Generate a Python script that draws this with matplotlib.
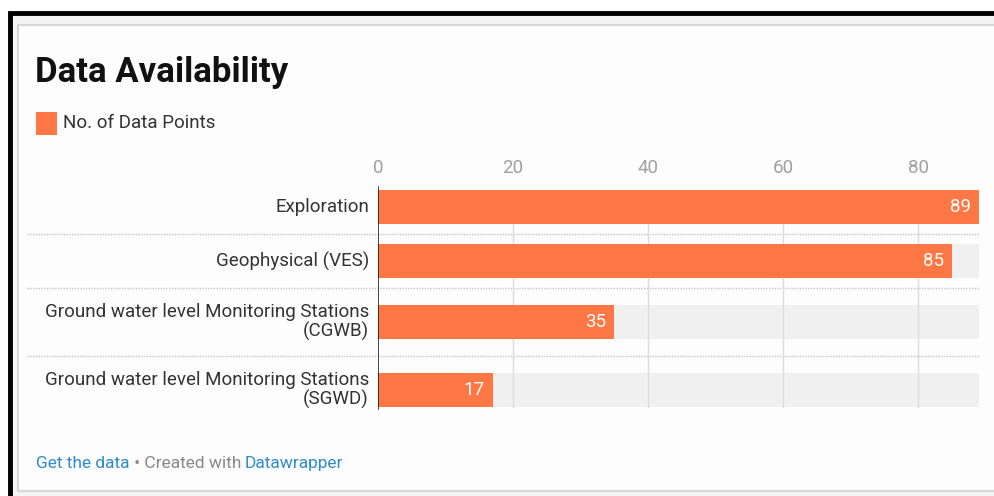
import matplotlib.pyplot as plt
from matplotlib.patches import Rectangle

categories = ['Exploration', 'Geophysical (VES)',
              'Ground water level Monitoring Stations\n(CGWB)',
              'Ground water level Monitoring Stations\n(SGWD)']
values = [89, 85, 35, 17]
ticks = [0, 20, 40, 60, 80]
series_name = 'No. of Data Points'

ORANGE = '#ff7744'
BLUE = '#2f8bc9'
plt.rcParams['font.family'] = ['Roboto', 'DejaVu Sans']

W, H = 995, 496
fig = plt.figure(figsize=(W / 100, H / 100), dpi=100)

# frame / decoration layer in pixel coordinates
bg = fig.add_axes([0, 0, 1, 1])
bg.set_xlim(0, W)
bg.set_ylim(H, 0)
bg.axis('off')
bg.add_patch(Rectangle((10, 13), W, H, facecolor='#f4f4f4', edgecolor='black', linewidth=3.5))
bg.add_patch(Rectangle((18, 25), W, 466, facecolor='#fdfdfd', edgecolor='#d6d6d6', linewidth=1.5))

bg.text(35, 82, 'Data Availability', fontsize=25, fontweight='bold', color='#111111', va='baseline')
bg.add_patch(Rectangle((36, 112), 21, 23, facecolor=ORANGE, edgecolor='none'))
bg.text(63, 123, series_name, fontsize=13.5, color='#333333', va='center')

# footer pieces laid out one after another on a shared baseline
renderer = fig.canvas.get_renderer()
x = 36
for txt, col in [('Get the data', BLUE), (' \u2022 Created with ', '#888888'), ('Datawrapper', BLUE)]:
    t = bg.text(x, 468, txt, fontsize=12.5, color=col, va='baseline')
    x += t.get_window_extent(renderer).width

# row layout: taller rows for two-line labels
bar_h = 34
pads = [10 if '\n' not in c else 17 for c in categories]
rows = []
top = 0
for p in pads:
    rows.append((top, top + 2 * p + bar_h))
    top += 2 * p + bar_h
total = top

y0 = 180
ax = fig.add_axes([378 / W, 1 - (y0 + total) / H, (979 - 378) / W, total / H])
ax.set_facecolor('none')
xmax = max(values)
ax.set_xlim(0, xmax)
ax.set_ylim(total, 0)
ax.axis('off')

centers = [(a + b) / 2 for a, b in rows]
ax.barh(centers, [xmax] * len(values), height=bar_h, color='#f0f0f0', zorder=1)
for t in ticks[1:]:
    ax.plot([t, t], [centers[0], centers[-1] + bar_h / 2], color='#dcdcdc', linewidth=1, zorder=2)
ax.barh(centers, values, height=bar_h, color=ORANGE, zorder=3)
ax.plot([0, 0], [centers[0] - bar_h / 2 - 3, centers[-1] + bar_h / 2 + 2], color='#222222', linewidth=1.2, zorder=4)

# dotted separators between rows, running under the labels too
for (a, b) in rows[1:]:
    bg.plot([27, 979], [y0 + a, y0 + a], color='#c4c4c4', linewidth=1, linestyle=(0, (1, 1)), zorder=5)

for c, v, cat in zip(centers, values, categories):
    ax.annotate(str(v), xy=(v, c), xytext=(-8, 0), textcoords='offset pixels',
                ha='right', va='center', color='white', fontsize=13.5, zorder=5)
    ax.annotate(cat, xy=(0, c), xytext=(-9, 0), textcoords='offset pixels',
                ha='right', va='center', color='#333333', fontsize=13.5, linespacing=1.1)

for t in ticks:
    ax.annotate(str(t), xy=(t, 0), xytext=(0, 180 - 168), textcoords='offset pixels',
                ha='center', va='center', color='#a0a0a0', fontsize=13.5)

fig.savefig('out.png', dpi=100)
